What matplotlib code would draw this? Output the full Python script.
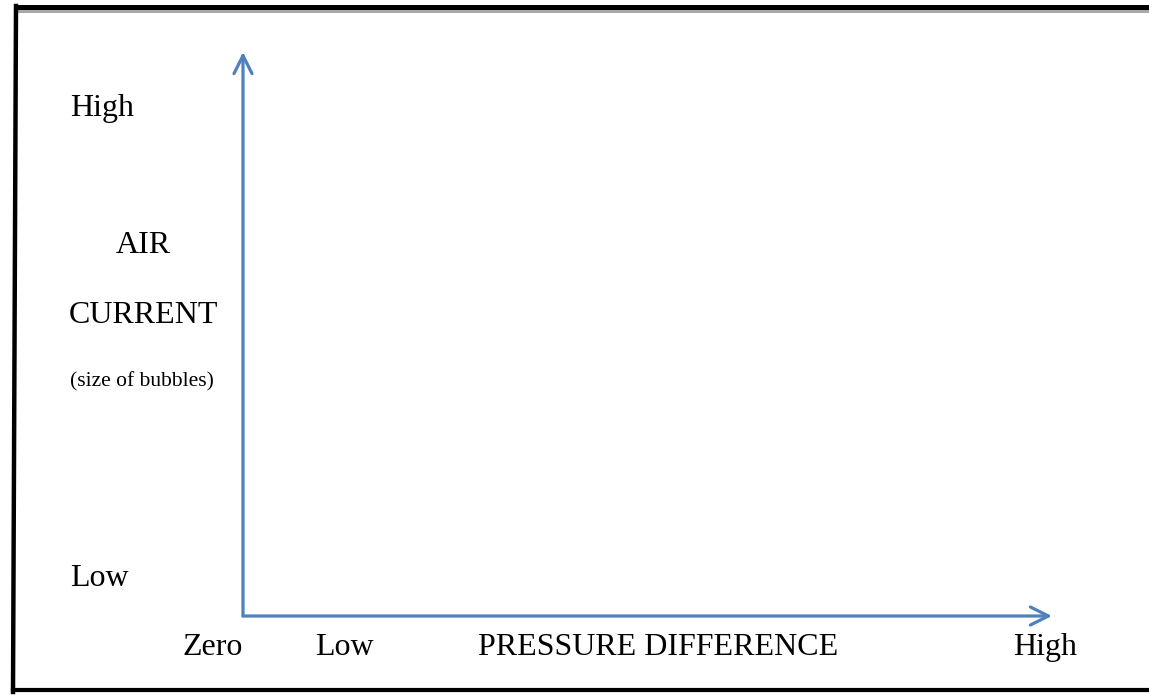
import matplotlib
matplotlib.use("Agg")
import matplotlib.pyplot as plt
from matplotlib.lines import Line2D

# Schematic axes: both run from 0 to 10 (arbitrary units)
x_labels = ["Zero", "Low", "PRESSURE DIFFERENCE", "High"]
x_label_pos = [0.0, 1.26, 5.13, 9.92]
y_labels = ["Low", "High"]
y_label_pos = [0.66, 8.99]
y_title = ["AIR", "CURRENT"]
y_title_pos = [6.57, 5.33]
y_note = "(size of bubbles)"
y_note_pos = 4.15

plt.rcParams['font.family'] = ['Liberation Serif', 'DejaVu Serif']
blue = '#4f81bd'

W, H = 1149, 695
fig = plt.figure(figsize=(W / 100, H / 100), dpi=100)
fig.patch.set_facecolor('white')

# frame around the picture (in pixels, converted to figure fraction)
def fline(x0, y0, x1, y1, **kw):
    fig.add_artist(Line2D([x0 / W, x1 / W], [1 - y0 / H, 1 - y1 / H],
                          transform=fig.transFigure, **kw))

fline(17, 11, 1149, 11, color='#a8a8a8', lw=2.2)
fline(16, 7, 1149, 7, color='black', lw=3.6)
fline(16, 6, 13, 692, color='black', lw=3.2)
fline(13, 690, 1149, 690, color='black', lw=3.0)

# plotting area: from the origin to the arrow tips
ax = fig.add_axes([243 / W, (H - 616) / H, 809 / W, 564 / H])
ax.set_xlim(0, 10)
ax.set_ylim(0, 10)
ax.axis('off')

arrow = dict(arrowstyle='->,head_length=1.3,head_width=0.65', color=blue,
             lw=2.3, shrinkA=0, shrinkB=0)
ax.annotate('', xy=(10, 0), xytext=(0, 0), arrowprops=arrow, annotation_clip=False)
ax.annotate('', xy=(0, 10), xytext=(0, 0), arrowprops=arrow, annotation_clip=False)

fs = 23
for lab, xp in zip(x_labels, x_label_pos):
    ha = 'right' if lab == "Zero" else 'center'
    ax.text(xp, -0.55, lab, ha=ha, va='center', fontsize=fs, clip_on=False)

for lab, yp in zip(y_labels, y_label_pos):
    ax.text(-2.14, yp, lab, ha='left', va='center', fontsize=fs, clip_on=False)

for lab, yp in zip(y_title, y_title_pos):
    ax.text(-1.23, yp, lab, ha='center', va='center', fontsize=fs, clip_on=False)

ax.text(-1.25, y_note_pos, y_note, ha='center', va='center', fontsize=15.5, clip_on=False)

fig.savefig('out.png', dpi=100, facecolor='white')
